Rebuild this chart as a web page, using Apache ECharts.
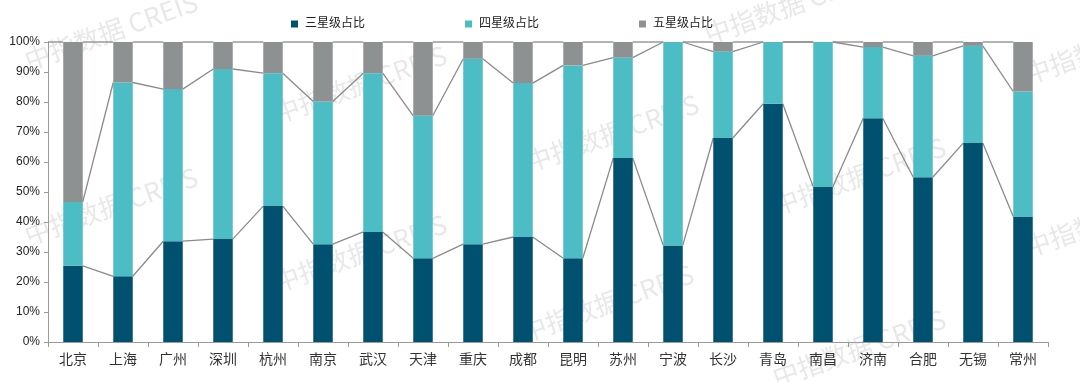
<!DOCTYPE html>
<html>
<head>
<meta charset="utf-8">
<script src="https://cdn.jsdelivr.net/npm/echarts@6/dist/echarts.min.js"></script>
<style>html,body{margin:0;padding:0;background:#fff;}#c{width:1080px;height:382px;}</style>
</head>
<body>
<div id="c"></div>
<script>
var categories = ['北京','上海','广州','深圳','杭州','南京','武汉','天津','重庆','成都','昆明','苏州','宁波','长沙','青岛','南昌','济南','合肥','无锡','常州'];
var threeStar = [25.4,21.9,33.6,34.3,45.3,32.6,36.7,27.9,32.6,35.0,27.9,61.3,32.2,68.0,79.4,51.7,74.6,54.9,66.3,41.8];
var fourStar  = [21.3,64.6,50.7,56.7,44.3,47.6,52.9,47.5,61.8,51.3,64.3,33.5,67.8,28.8,20.6,48.3,23.7,40.5,32.4,41.7];
var fiveStar  = [53.3,13.5,15.7,9.0,10.4,19.8,10.4,24.6,5.6,13.7,7.8,5.2,0,3.2,0,0,1.7,4.6,1.3,16.5];
var seriesNames = ['三星级占比','四星级占比','五星级占比'];
var yTicks = [0,10,20,30,40,50,60,70,80,90,100];
var watermarkText = '中指数据 CREIS';

var FONT = "'Liberation Sans','Noto Sans CJK SC',sans-serif";
var BAR_FRAC = 0.39;

// series-line data: each item connects bar i to bar i+1
var lineData = [];
for (var i = 0; i < categories.length - 1; i++) {
  var c1a = threeStar[i], c1b = threeStar[i+1];
  var c2a = threeStar[i] + fourStar[i], c2b = threeStar[i+1] + fourStar[i+1];
  lineData.push([i, c1a, c1b, c2a, c2b]);
}

var wmPos = [[111,31],[111,206],[360,84],[360,253],[612,133],[607,303],[791,5],[859,176],[859,348],[1111,45],[1111,218]];
var graphics = wmPos.map(function(p){
  return {
    type: 'text', x: p[0], y: p[1], rotation: 19.5 * Math.PI / 180, z: -10, silent: true,
    style: { text: watermarkText, fill: '#e8e8e8', font: "26px 'Noto Sans CJK SC',sans-serif", align: 'center', verticalAlign: 'middle' }
  };
});

var chart = echarts.init(document.getElementById('c'));
chart.setOption({
  animation: false,
  graphic: graphics,
  legend: {
    data: seriesNames,
    left: 286, top: 13,
    itemWidth: 7, itemHeight: 7, itemGap: 100,
    icon: 'rect',
    textStyle: { fontSize: 12, color: '#222', fontFamily: FONT, padding: [0,0,0,2] }
  },
  grid: { left: 48, right: 32, top: 42, bottom: 40 },
  xAxis: {
    type: 'category', data: categories,
    axisLine: { lineStyle: { color: '#9a9a9a' } },
    axisTick: { show: true, length: 5, lineStyle: { color: '#9a9a9a' } },
    axisLabel: { fontSize: 14, color: '#333', fontFamily: FONT, margin: 11 }
  },
  yAxis: {
    type: 'value', min: 0, max: 100, interval: 10,
    axisLine: { show: true, lineStyle: { color: '#9a9a9a' } },
    axisTick: { show: true, length: 4, lineStyle: { color: '#9a9a9a' } },
    splitLine: { show: false },
    axisLabel: { fontSize: 12, color: '#222', fontFamily: FONT, margin: 8,
      formatter: function(v){ return yTicks.indexOf(v) >= 0 ? v + '%' : ''; } }
  },
  series: [
    { name: seriesNames[0], type: 'bar', stack: 'total', data: threeStar, barWidth: (BAR_FRAC*100)+'%', itemStyle: { color: '#00516F' }, z: 3 },
    { name: seriesNames[1], type: 'bar', stack: 'total', data: fourStar, barWidth: (BAR_FRAC*100)+'%', itemStyle: { color: '#4DBDC5' }, z: 3 },
    { name: seriesNames[2], type: 'bar', stack: 'total', data: fiveStar, barWidth: (BAR_FRAC*100)+'%', itemStyle: { color: '#8E9192' }, z: 3 },
    {
      type: 'custom', z: 2, silent: true,
      data: lineData,
      encode: { x: 0, y: [1,2,3,4] },
      renderItem: function(params, api) {
        var idx = api.value(0);
        var band = api.size([1, 0])[0];
        var half = band * BAR_FRAC / 2;
        var st = { stroke: '#8a8a8a', lineWidth: 1.3, fill: null };
        var children = [];
        function seg(va, vb) {
          var a = api.coord([idx, va]);
          var b = api.coord([idx + 1, vb]);
          children.push({ type: 'line', shape: { x1: a[0] + half, y1: a[1], x2: b[0] - half, y2: b[1] }, style: st });
        }
        seg(api.value(1), api.value(2));
        seg(api.value(3), api.value(4));
        seg(100, 100);
        if (idx === 0) {
          var a0 = api.coord([0, 100]);
          children.push({ type: 'line', shape: { x1: a0[0] - band/2, y1: a0[1], x2: a0[0] - half, y2: a0[1] }, style: st });
        }
        return { type: 'group', children: children };
      }
    }
  ]
});
</script>
</body>
</html>
